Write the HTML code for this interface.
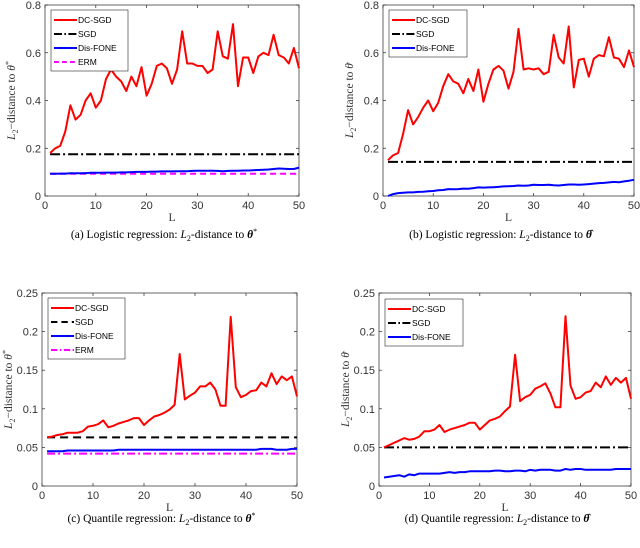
<!DOCTYPE html>
<html><head><meta charset="utf-8"><style>
body{margin:0;background:#fff;width:640px;height:548px;overflow:hidden}
svg{display:block}
.tick{font:11px "Liberation Sans",sans-serif;fill:#333}
.leg{font:8.5px "Liberation Sans",sans-serif;fill:#000}
.ylab{font:11.5px "Liberation Serif",serif;fill:#333}
.cap{font:11.5px "Liberation Serif",serif;fill:#000}
</style></head><body>
<svg id="fig" width="640" height="548"></svg>
<script>
const Ls = Array.from({length:50},(_,i)=>i+1);
const redA=[0.18,0.20,0.21,0.27,0.38,0.32,0.34,0.40,0.43,0.37,0.40,0.49,0.53,0.50,0.48,0.44,0.50,0.46,0.54,0.42,0.47,0.545,0.555,0.535,0.47,0.53,0.69,0.555,0.555,0.545,0.545,0.515,0.53,0.69,0.585,0.575,0.72,0.46,0.58,0.58,0.515,0.585,0.60,0.59,0.675,0.59,0.58,0.555,0.62,0.535];
const blueA=[0.093,0.093,0.094,0.094,0.095,0.095,0.095,0.096,0.097,0.097,0.097,0.098,0.098,0.098,0.099,0.099,0.1,0.101,0.101,0.101,0.102,0.102,0.103,0.103,0.103,0.104,0.104,0.104,0.105,0.106,0.106,0.106,0.106,0.105,0.104,0.105,0.106,0.106,0.107,0.107,0.108,0.109,0.11,0.111,0.113,0.115,0.114,0.113,0.113,0.119];
const redB=[0.15,0.17,0.18,0.26,0.36,0.30,0.33,0.37,0.40,0.355,0.39,0.46,0.51,0.48,0.47,0.43,0.49,0.44,0.53,0.395,0.47,0.53,0.545,0.525,0.45,0.52,0.70,0.53,0.535,0.53,0.535,0.51,0.52,0.675,0.58,0.555,0.71,0.455,0.57,0.575,0.50,0.575,0.59,0.585,0.665,0.58,0.575,0.54,0.61,0.54];
const blueB=[0.0,0.008,0.012,0.014,0.015,0.015,0.017,0.018,0.02,0.021,0.024,0.025,0.029,0.028,0.029,0.031,0.03,0.033,0.036,0.035,0.036,0.037,0.038,0.04,0.041,0.042,0.044,0.043,0.044,0.047,0.046,0.046,0.047,0.045,0.044,0.046,0.048,0.048,0.047,0.048,0.05,0.052,0.054,0.055,0.057,0.059,0.058,0.061,0.064,0.068];
const redC=[0.063,0.064,0.066,0.067,0.069,0.069,0.069,0.071,0.077,0.078,0.080,0.085,0.076,0.078,0.081,0.083,0.085,0.088,0.088,0.079,0.085,0.090,0.092,0.095,0.099,0.105,0.171,0.112,0.117,0.121,0.129,0.129,0.134,0.125,0.104,0.104,0.219,0.128,0.115,0.118,0.123,0.124,0.134,0.129,0.146,0.132,0.142,0.137,0.142,0.116];
const blueC=[0.045,0.045,0.045,0.045,0.046,0.046,0.046,0.046,0.046,0.046,0.046,0.046,0.046,0.046,0.047,0.047,0.047,0.047,0.047,0.047,0.047,0.047,0.047,0.047,0.047,0.047,0.047,0.047,0.047,0.047,0.047,0.047,0.047,0.047,0.047,0.047,0.047,0.047,0.047,0.047,0.047,0.047,0.048,0.048,0.048,0.047,0.047,0.047,0.048,0.048];
const redD=[0.050,0.053,0.056,0.059,0.062,0.060,0.061,0.064,0.071,0.071,0.073,0.079,0.070,0.073,0.075,0.077,0.079,0.082,0.082,0.073,0.079,0.085,0.087,0.090,0.097,0.103,0.170,0.110,0.115,0.118,0.126,0.129,0.133,0.120,0.102,0.102,0.220,0.130,0.113,0.115,0.121,0.123,0.134,0.128,0.142,0.131,0.140,0.134,0.140,0.113];
const blueD=[0.011,0.012,0.013,0.014,0.012,0.015,0.014,0.016,0.016,0.016,0.016,0.016,0.017,0.018,0.017,0.018,0.018,0.019,0.019,0.019,0.019,0.019,0.02,0.02,0.019,0.019,0.02,0.02,0.019,0.021,0.02,0.021,0.021,0.021,0.02,0.02,0.022,0.021,0.022,0.022,0.021,0.021,0.021,0.021,0.021,0.021,0.022,0.022,0.022,0.022];
const xTicks=[0,10,20,30,40,50];
const yTicksAB=[0,0.2,0.4,0.6,0.8];
const yTicksCD=[0,0.05,0.1,0.15,0.2,0.25];
const NS="http://www.w3.org/2000/svg";
const svg=document.getElementById('fig');
function el(t,a,p){const e=document.createElementNS(NS,t);for(const k in a)e.setAttribute(k,a[k]);(p||svg).appendChild(e);return e;}
function span(parent,txt,attrs){const s=el('tspan',attrs||{},parent);s.textContent=txt;return s;}
const panels=[
 {id:'a',x0:45,x1:299,y0:196,y1:5,ymax:0.8,yt:yTicksAB,red:redA,blue:blueA,sgd:0.175,sgdDash:'10 3 2 3',erm:0.093,ermDash:'6 4',hat:false,capPre:'(a)  Logistic regression:  ',capY:238,legY:10},
 {id:'b',x0:383,x1:634,y0:196,y1:5,ymax:0.8,yt:yTicksAB,red:redB,blue:blueB,sgd:0.143,sgdDash:'10 3 2 3',erm:null,hat:true,capPre:'(b)  Logistic regression:  ',capY:238,legY:10},
 {id:'c',x0:42,x1:297,y0:486,y1:293,ymax:0.25,yt:yTicksCD,red:redC,blue:blueC,sgd:0.063,sgdDash:'8 5',erm:0.042,ermDash:'8 3 2 3',hat:false,capPre:'(c)  Quantile regression:  ',capY:522,legY:298},
 {id:'d',x0:379,x1:631,y0:486,y1:293,ymax:0.25,yt:yTicksCD,red:redD,blue:blueD,sgd:0.05,sgdDash:'10 3 2 3',erm:null,hat:true,capPre:'(d)  Quantile regression:  ',capY:522,legY:299}
];
panels.forEach(p=>{
 const g=el('g',{});
 
 
 const X=v=>p.x0+(p.x1-p.x0)*v/50;
 const Y=v=>p.y0-(p.y0-p.y1)*v/p.ymax;
 const box=el('rect',{x:p.x0,y:p.y1,width:p.x1-p.x0,height:p.y0-p.y1,fill:'none',stroke:'#262626','stroke-width':0.7},g);
 
 
 xTicks.forEach(t=>{
  el('line',{x1:X(t),x2:X(t),y1:p.y0,y2:p.y0-3,stroke:'#262626','stroke-width':0.7},g);
  el('line',{x1:X(t),x2:X(t),y1:p.y1,y2:p.y1+3,stroke:'#262626','stroke-width':0.7},g);
  const tx=el('text',{x:X(t),y:p.y0+13,'text-anchor':'middle',class:'tick'},g);tx.textContent=t;
  
  
 });
 p.yt.forEach(t=>{
  el('line',{x1:p.x0,x2:p.x0+3,y1:Y(t),y2:Y(t),stroke:'#262626','stroke-width':0.7},g);
  el('line',{x1:p.x1,x2:p.x1-3,y1:Y(t),y2:Y(t),stroke:'#262626','stroke-width':0.7},g);
  const tx=el('text',{x:p.x0-4,y:Y(t)+4,'text-anchor':'end',class:'tick'},g);tx.textContent=t;
  
  
 });
 const xl=el('text',{x:(p.x0+p.x1)/2,y:p.y0+25,'text-anchor':'middle',class:'ylab','font-style':'italic'},g);xl.textContent='L';
 
 
 const yx=p.x0-30, yy=(p.y0+p.y1)/2;
 const yl=el('text',{x:yx,y:yy,'text-anchor':'middle',class:'ylab',transform:`rotate(-90 ${yx} ${yy})`},g);
 span(yl,'L',{'font-style':'italic'});span(yl,'2',{'font-size':'8px',dy:'3'});span(yl,'−distance to ',{dy:'-3'});
 span(yl,'θ',{'font-style':'italic'});span(yl,p.hat?'\u0302':'*',{'font-size':'8px',dy:p.hat?'0':'-4'});
 
 
 const line=(vals,col,dash,name)=>{
  const d=vals.map((v,i)=>(i?'L':'M')+X(Ls[i]).toFixed(1)+' '+Y(v).toFixed(1)).join(' ');
  const pa=el('path',{d,fill:'none',stroke:col,'stroke-width':2,'stroke-linejoin':'round'},g);
  if(dash)pa.setAttribute('stroke-dasharray',dash);
  
  
 };
 if(p.erm!==null) line(Ls.map(()=>p.erm),'#ff00ff',p.ermDash,'erm-line');
 line(Ls.map(()=>p.sgd),'#000',p.sgdDash,'sgd-line');
 line(p.blue,'#0000ff',null,'dis-fone-line');
 line(p.red,'#ff0000',null,'dc-sgd-line');
 const entries=[['DC-SGD','#ff0000',null],['SGD','#000',p.sgdDash],['Dis-FONE','#0000ff',null]];
 if(p.erm!==null) entries.push(['ERM','#ff00ff',p.ermDash]);
 const lx=p.x0+6, ly=p.legY;
 const lb=el('rect',{x:lx,y:ly,width:p.erm!==null?77:78,height:entries.length*14+5,fill:'#fff',stroke:'#262626','stroke-width':0.6},g);
 
 
 entries.forEach((e,i)=>{
  const ey=ly+10+i*14;
  const ln=el('line',{x1:lx+3,x2:lx+26,y1:ey,y2:ey,stroke:e[1],'stroke-width':2},g);
  if(e[2])ln.setAttribute('stroke-dasharray',e[2].split(' ').map(n=>n*0.8).join(' '));
  const t=el('text',{x:lx+27,y:ey+3,class:'leg'},g);t.textContent=e[0];
  
  
 });
 const c=el('text',{x:(p.x0+p.x1)/2-8,y:p.capY,'text-anchor':'middle',class:'cap'},g);
 span(c,p.capPre);span(c,'L',{'font-style':'italic'});span(c,'2',{'font-size':'8px',dy:'3'});
 span(c,'-distance to ',{dy:'-3'});span(c,'θ',{'font-weight':'bold','font-style':'italic'});
 span(c,p.hat?'\u0302':'*',{'font-size':p.hat?'11.5px':'8px',dy:p.hat?'0':'-4'});
 
 
});
</script>
</body></html>
